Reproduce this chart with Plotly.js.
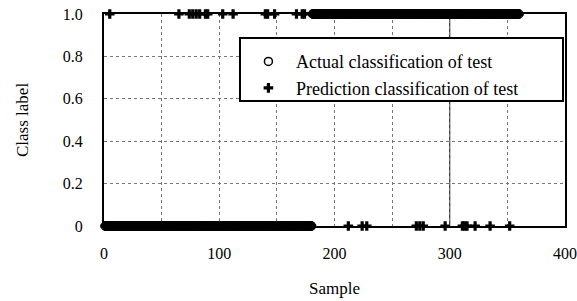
<!DOCTYPE html>
<html>
<head>
<meta charset="utf-8">
<script src="https://cdn.plot.ly/plotly-3.0.1.min.js"></script>
<style>html,body{margin:0;padding:0;background:#fff;}#chart{width:577px;height:301px;}</style>
</head>
<body>
<div id="chart"></div>
<script>
// Sample numbers run 1..360 (x0 = 1, dx = 1)
const actualLabel = [
0,0,0,0,0,0,0,0,0,0, 0,0,0,0,0,0,0,0,0,0, 0,0,0,0,0,0,0,0,0,0,
0,0,0,0,0,0,0,0,0,0, 0,0,0,0,0,0,0,0,0,0, 0,0,0,0,0,0,0,0,0,0,
0,0,0,0,0,0,0,0,0,0, 0,0,0,0,0,0,0,0,0,0, 0,0,0,0,0,0,0,0,0,0,
0,0,0,0,0,0,0,0,0,0, 0,0,0,0,0,0,0,0,0,0, 0,0,0,0,0,0,0,0,0,0,
0,0,0,0,0,0,0,0,0,0, 0,0,0,0,0,0,0,0,0,0, 0,0,0,0,0,0,0,0,0,0,
0,0,0,0,0,0,0,0,0,0, 0,0,0,0,0,0,0,0,0,0, 0,0,0,0,0,0,0,0,0,0,
1,1,1,1,1,1,1,1,1,1, 1,1,1,1,1,1,1,1,1,1, 1,1,1,1,1,1,1,1,1,1,
1,1,1,1,1,1,1,1,1,1, 1,1,1,1,1,1,1,1,1,1, 1,1,1,1,1,1,1,1,1,1,
1,1,1,1,1,1,1,1,1,1, 1,1,1,1,1,1,1,1,1,1, 1,1,1,1,1,1,1,1,1,1,
1,1,1,1,1,1,1,1,1,1, 1,1,1,1,1,1,1,1,1,1, 1,1,1,1,1,1,1,1,1,1,
1,1,1,1,1,1,1,1,1,1, 1,1,1,1,1,1,1,1,1,1, 1,1,1,1,1,1,1,1,1,1,
1,1,1,1,1,1,1,1,1,1, 1,1,1,1,1,1,1,1,1,1, 1,1,1,1,1,1,1,1,1,1
];
const predictedLabel = [
0,0,0,0,1,0,0,0,0,0, 0,0,0,0,0,0,0,0,0,0, 0,0,0,0,0,0,0,0,0,0,
0,0,0,0,0,0,0,0,0,0, 0,0,0,0,0,0,0,0,0,0, 0,0,0,0,0,0,0,0,0,0,
0,0,0,0,1,0,0,0,0,0, 0,0,0,1,0,0,1,0,0,1, 0,0,1,0,0,0,0,1,0,1,
0,0,0,0,0,0,0,0,0,0, 0,0,1,0,0,0,0,0,0,0, 0,1,0,0,0,0,0,0,0,0,
0,0,0,0,0,0,0,0,0,0, 0,0,0,0,0,0,0,0,0,1, 0,1,0,0,0,0,0,1,0,0,
0,0,0,0,0,0,0,0,0,0, 0,0,0,0,0,0,1,0,0,0, 0,1,0,1,0,0,0,0,0,0,
1,1,1,1,1,1,1,1,1,1, 1,1,1,1,1,1,1,1,1,1, 1,1,1,1,1,1,1,1,1,1,
1,0,1,1,1,1,1,1,1,1, 1,1,1,0,1,1,1,0,1,1, 1,1,1,1,1,1,1,1,1,1,
1,1,1,1,1,1,1,1,1,1, 1,1,1,1,1,1,1,1,1,1, 1,1,1,1,1,1,1,1,1,1,
0,1,1,0,1,1,0,1,1,1, 1,1,1,1,1,1,1,1,1,1, 1,1,1,1,1,0,1,1,1,1,
1,1,1,1,1,1,1,1,1,1, 0,1,0,1,0,1,1,1,1,1, 1,0,1,1,1,1,1,1,1,1,
1,1,1,1,0,1,1,1,1,1, 1,1,1,1,1,1,1,1,1,1, 1,0,1,1,1,1,1,1,1,1
];
const seriesNames = ["Actual classification of test", "Prediction classification of test"];
const xTicks = [0, 100, 200, 300, 400];
const yTicks = [0, 0.2, 0.4, 0.6, 0.8, 1.0];
const yTickText = ["0", "0.2", "0.4", "0.6", "0.8", "1.0"];

const serif = "Liberation Serif";

const traces = [
  {
    type: "scatter", mode: "markers", name: seriesNames[0],
    x0: 1, dx: 1, y: actualLabel, cliponaxis: false,
    marker: {symbol: "circle-open", size: 8, color: "#000", line: {width: 1.5, color: "#000"}}
  },
  {
    type: "scatter", mode: "markers", name: seriesNames[1],
    x0: 1, dx: 1, y: predictedLabel, cliponaxis: false,
    marker: {symbol: "cross", size: 8, color: "#000", line: {width: 0}}
  }
];

const layout = {
  width: 577, height: 301,
  margin: {l: 104, r: 12, t: 14, b: 75},
  paper_bgcolor: "#fff", plot_bgcolor: "#fff",
  font: {family: serif, size: 15, color: "#000"},
  showlegend: true,
  legend: {
    x: 0.297, y: 0.862, xanchor: "left", yanchor: "top",
    bgcolor: "rgba(0,0,0,0)", borderwidth: 0,
    font: {family: serif, size: 18, color: "#000"},
    tracegroupgap: 0, itemwidth: 45
  },
  xaxis: {
    range: [0, 400], tickvals: xTicks, ticktext: xTicks.map(String),
    showline: true, linecolor: "#000", linewidth: 2, mirror: true,
    ticks: "", ticklabelstandoff: 12,
    showgrid: true, gridcolor: "#777", gridwidth: 1, griddash: "dot",
    minor: {dtick: 50, tick0: 0, showgrid: true, gridcolor: "#777", gridwidth: 1, griddash: "dot"},
    zeroline: false, tickfont: {family: serif, size: 16, color: "#000"}
  },
  yaxis: {
    range: [0, 1], tickvals: yTicks, ticktext: yTickText,
    showline: true, linecolor: "#000", linewidth: 2, mirror: true,
    ticks: "", ticklabelstandoff: 16,
    showgrid: true, gridcolor: "#777", gridwidth: 1, griddash: "dot",
    zeroline: false, tickfont: {family: serif, size: 16, color: "#000"}
  },
  shapes: [
    {type: "line", xref: "x", yref: "paper", x0: 300, x1: 300, y0: 0, y1: 1,
     line: {color: "#000", width: 1}, layer: "below"},
    {type: "rect", xref: "paper", yref: "paper", x0: 0.295, x1: 0.9957, y0: 0.5896, y1: 0.8868,
     fillcolor: "#fff", line: {color: "#000", width: 2}, layer: "above"}
  ],
  annotations: [
    {text: "Sample", xref: "paper", yref: "paper", x: 0.5, y: 0, yshift: -62,
     showarrow: false, xanchor: "center", yanchor: "middle",
     font: {family: serif, size: 17, color: "#000"}},
    {text: "Class label", xref: "paper", yref: "paper", x: 0, xshift: -82, y: 0.5,
     showarrow: false, textangle: -90, xanchor: "center", yanchor: "middle",
     font: {family: serif, size: 17, color: "#000"}}
  ]
};

Plotly.newPlot("chart", traces, layout, {displayModeBar: false, staticPlot: true});
</script>
</body>
</html>
